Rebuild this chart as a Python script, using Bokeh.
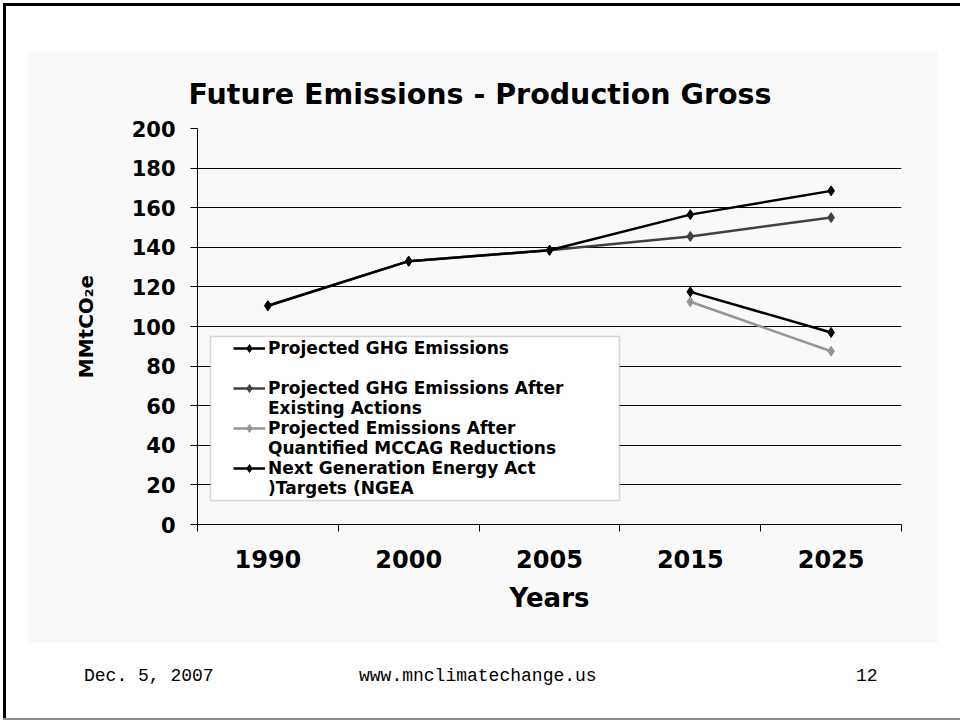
import numpy as np
from bokeh.plotting import figure
from bokeh.layouts import column, row
from bokeh.models import Range1d, FixedTicker, Legend, LegendItem, BoxAnnotation, Div
from bokeh.embed import file_html
from bokeh.resources import INLINE

# ---------------- data ----------------
title_text = "Future Emissions - Production Gross"
years = ["1990", "2000", "2005", "2015", "2025"]
projected_ghg = [110.5, 133.0, 138.5, 156.5, 168.5]
existing_actions = [110.5, 133.0, 138.5, 145.5, 155.0]
mccag_years = ["2015", "2025"]
mccag_reductions = [112.5, 87.5]
ngea_years = ["2015", "2025"]
ngea_targets = [117.5, 97.0]
y_ticks = [0, 20, 40, 60, 80, 100, 120, 140, 160, 180, 200]
legend_labels = [
    ["Projected GHG Emissions", " "],
    ["Projected GHG Emissions After", "Existing Actions"],
    ["Projected Emissions After", "Quantified MCCAG Reductions"],
    ["Next Generation Energy Act", ")Targets (NGEA"],
]
y_label = "MMtCO\u2082e"
x_label = "Years"
footer_date = "Dec. 5, 2007"
footer_url = "www.mnclimatechange.us"
footer_page = "12"

# ---------------- layout (page pixels) ----------------
PAGE_W = 960
GL, GR, GT, GB = 27, 938, 51, 643            # grey chart area
FR_L, FR_R, FR_T, FR_B = 197.0, 901.0, 128.0, 524.0   # plot frame
def dx(px):
    return (px - FR_L) / (FR_R - FR_L) * len(years)
def dy(py):
    return (FR_B - py) / (FR_B - FR_T) * 200.0

def xpos(ys):
    return [years.index(y) + 0.5 for y in ys]

FONT = "DejaVu Sans"
GRAY_BG = "#f9f9f9"

p = figure(width=GR - GL, height=GB - GT, title=title_text,
           x_range=Range1d(0, len(years)), y_range=Range1d(0, 200),
           output_backend="svg", toolbar_location=None,
           min_border_left=int(FR_L - GL), min_border_right=int(GR - FR_R),
           min_border_top=int(FR_T - GT), min_border_bottom=int(GB - FR_B),
           background_fill_color=GRAY_BG, border_fill_color=GRAY_BG)
p.outline_line_color = None

p.title.align = "left"
p.title.offset = -9
p.title.text_font = FONT
p.title.text_font_style = "bold"
p.title.text_font_size = "28.5px"
p.title.text_color = "black"
p.title.standoff = 35

# axes
p.xgrid.visible = False
p.ygrid.grid_line_color = "black"
p.ygrid.grid_line_width = 1

p.yaxis.ticker = FixedTicker(ticks=y_ticks, minor_ticks=[])
p.yaxis.major_tick_out = 7
p.yaxis.major_tick_in = 0
p.yaxis.minor_tick_line_color = None
p.yaxis.axis_line_color = "black"
p.yaxis.major_tick_line_color = "black"
p.yaxis.major_label_text_font = FONT
p.yaxis.major_label_text_font_style = "bold"
p.yaxis.major_label_text_font_size = "21px"
p.yaxis.major_label_text_color = "black"
p.yaxis.major_label_standoff = 15
p.yaxis.axis_label = y_label
p.yaxis.axis_label_text_font = FONT
p.yaxis.axis_label_text_font_style = "bold"
p.yaxis.axis_label_text_font_size = "20px"
p.yaxis.axis_label_text_color = "black"
p.yaxis.axis_label_standoff = 31

centers = [i + 0.5 for i in range(len(years))]
p.xaxis.ticker = FixedTicker(ticks=centers, minor_ticks=list(range(len(years) + 1)))
p.xaxis.major_label_overrides = {c: y for c, y in zip(centers, years)}
p.xaxis.major_tick_out = 0
p.xaxis.major_tick_in = 0
p.xaxis.major_tick_line_color = None
p.xaxis.minor_tick_out = 7
p.xaxis.minor_tick_in = 0
p.xaxis.minor_tick_line_color = "black"
p.xaxis.axis_line_color = "black"
p.xaxis.major_label_text_font = FONT
p.xaxis.major_label_text_font_style = "bold"
p.xaxis.major_label_text_font_size = "24px"
p.xaxis.major_label_text_color = "black"
p.xaxis.major_label_standoff = 18
p.xaxis.axis_label = x_label
p.xaxis.axis_label_text_font = FONT
p.xaxis.axis_label_text_font_style = "bold"
p.xaxis.axis_label_text_font_size = "26px"
p.xaxis.axis_label_text_color = "black"
p.xaxis.axis_label_standoff = 12

# series
MK = dict(marker="diamond", size=10)
l2 = p.line(xpos(years), existing_actions, line_color="#404040", line_width=2.5)
m2 = p.scatter(xpos(years), existing_actions, color="#404040", **MK)
l1 = p.line(xpos(years), projected_ghg, line_color="black", line_width=2.5)
m1 = p.scatter(xpos(years), projected_ghg, color="black", **MK)
l3 = p.line(xpos(mccag_years), mccag_reductions, line_color="#969696", line_width=2.5)
m3 = p.scatter(xpos(mccag_years), mccag_reductions, color="#969696", **MK)
l4 = p.line(xpos(ngea_years), ngea_targets, line_color="black", line_width=2.5)
m4 = p.scatter(xpos(ngea_years), ngea_targets, color="black", **MK)
blank = p.line([], [], line_alpha=0)  # legend continuation rows carry no sample

# legend frame
p.add_layout(BoxAnnotation(left=dx(210), right=dx(619), top=dy(336), bottom=dy(500),
                           fill_color="white", fill_alpha=1,
                           line_color="#808080", line_width=1.5))

items = []
for (first, second), rs in zip(legend_labels, [[l1, m1], [l2, m2], [l3, m3], [l4, m4]]):
    items.append(LegendItem(label=first, renderers=rs))
    items.append(LegendItem(label=second, renderers=[blank]))

legend = Legend(items=items, location=(36, 26), padding=0, margin=0, spacing=0,
                glyph_width=32, glyph_height=20, label_height=20, label_standoff=3,
                background_fill_alpha=0, border_line_alpha=0,
                label_text_font=FONT, label_text_font_style="bold",
                label_text_font_size="17px", label_text_color="black")
p.add_layout(legend, "center")

# ---------------- slide around the chart ----------------
def block(w, h, color=None):
    styles = {"background-color": color} if color else {}
    return Div(text="", width=w, height=h, styles=styles, margin=0)

INNER_X = 6            # left edge of the slide body (after the border)
BODY_TOP = 6
BODY_H = 718 - BODY_TOP
FOOT_H = BODY_H - (GT - BODY_TOP) - (GB - GT)

span_style = ("position:absolute;top:{top}px;left:{left}px;line-height:22px;"
              "font-family:'Liberation Mono',monospace;font-size:18px;"
              "color:#000;white-space:pre;")
foot_center = 676 - GB
footer_html = '<div style="position:relative;width:%dpx;height:%dpx;">' % (PAGE_W - INNER_X, FOOT_H)
for txt, px in [(footer_date, 84), (footer_url, 359), (footer_page, 856)]:
    footer_html += '<span style="%s">%s</span>' % (
        span_style.format(top=foot_center - 11, left=px - INNER_X), txt)
footer_html += "</div>"
footer = Div(text=footer_html, width=PAGE_W - INNER_X, height=FOOT_H, margin=0)

body = column(
    block(GR - INNER_X, GT - BODY_TOP),
    row(block(GL - INNER_X, GB - GT), p, spacing=0),
    footer,
    spacing=0,
)

page = column(
    block(PAGE_W, 3),
    row(block(3, 3), block(PAGE_W - 3, 3, "black"), spacing=0),
    row(block(3, BODY_H), block(3, BODY_H, "black"), body, spacing=0),
    row(block(3, 2), block(PAGE_W - 3, 2, "#8c8c8c"), spacing=0),
    spacing=0,
)

open("out.html", "w").write(file_html(page, INLINE))
